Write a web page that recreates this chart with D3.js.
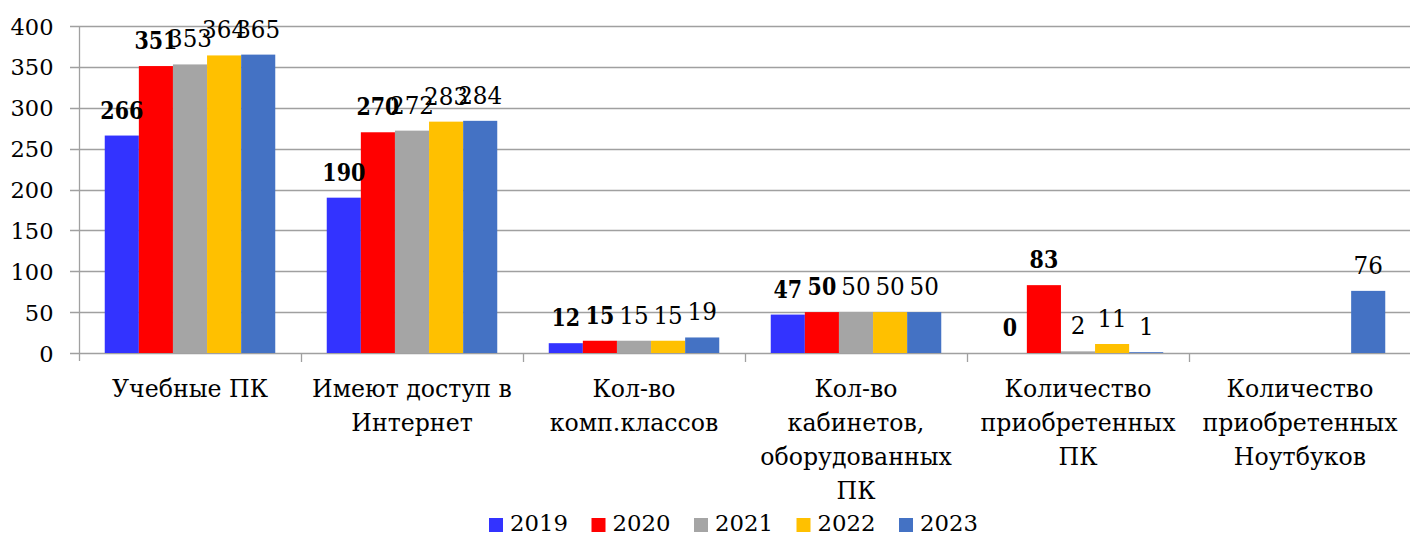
<!DOCTYPE html>
<html><head><meta charset="utf-8">
<script src="https://cdn.jsdelivr.net/npm/d3@7/dist/d3.min.js"></script>
<style>body{margin:0;background:#fff}svg{display:block}text{font-family:"DejaVu Serif",serif;fill:#000}</style>
</head><body><svg id="c" width="1410" height="535"></svg>
<script>
const categories = [
  ["Учебные ПК"],
  ["Имеют доступ в", "Интернет"],
  ["Кол-во", "комп.классов"],
  ["Кол-во", "кабинетов,", "оборудованных", "ПК"],
  ["Количество", "приобретенных", "ПК"],
  ["Количество", "приобретенных", "Ноутбуков"]
];
const years = ["2019", "2020", "2021", "2022", "2023"];
const v2019 = [266, 190, 12, 47, 0, null];
const v2020 = [351, 270, 15, 50, 83, null];
const v2021 = [353, 272, 15, 50, 2, null];
const v2022 = [364, 283, 15, 50, 11, null];
const v2023 = [365, 284, 19, 50, 1, 76];
const yTicks = [0, 50, 100, 150, 200, 250, 300, 350, 400];
const colors = ["#3333FF", "#FF0000", "#A5A5A5", "#FFC000", "#4472C4"];
const boldYears = ["2019", "2020"];

const series = [v2019, v2020, v2021, v2022, v2023];
const svg = d3.select("#c");

// horizontal calibration of the serif font to the reference's glyph widths
function measure(str, size, weight) {
  const t = svg.append("text").attr("font-size", size).attr("font-weight", weight).text(str);
  const w = t.node().getComputedTextLength();
  t.remove();
  return w;
}
const sxAxis = 43 / measure("400", 22, "normal");
const sxLeg = 58 / measure("2019", 22, "normal");
const sxVal = 44 / measure("284", 25, "normal");
const sxBold = 43 / measure("266", 25, "bold");
const sxCat = 156 / measure("Учебные ПК", 25, "normal");

const catIdx = categories.map((d, i) => i);
const x0 = d3.scaleBand().domain(catIdx).range([79, 1411]).padding(0);
const x1 = d3.scaleBand().domain(years).range([0, x0.bandwidth()]).paddingInner(0).paddingOuter(0.755);
const y = d3.scaleLinear().domain([0, 400]).range([353, 26]);
const color = d3.scaleOrdinal().domain(years).range(colors);

// gridlines
svg.append("g").selectAll("line").data(yTicks).join("line")
  .attr("x1", 70).attr("x2", 1410)
  .attr("y1", d => Math.round(y(d)) + 0.5).attr("y2", d => Math.round(y(d)) + 0.5)
  .attr("stroke", "#A0A0A0").attr("stroke-width", 1.3);

// y axis
const yAxis = svg.append("g").attr("transform", "translate(79.5,0)")
  .call(d3.axisLeft(y).tickValues(yTicks).tickSize(0).tickPadding(0));
yAxis.attr("font-family", null).attr("font-size", null);
yAxis.select(".domain").remove();
yAxis.selectAll("text").attr("x", null).attr("dy", null)
  .attr("transform", "translate(-26,8) scale(" + sxAxis + ",1)")
  .attr("font-size", 22).attr("fill", "#000");
svg.append("line").attr("x1", 79.5).attr("x2", 79.5).attr("y1", y(400)).attr("y2", 361)
  .attr("stroke", "#A0A0A0").attr("stroke-width", 1.3);

// x axis ticks at category boundaries
const bounds = catIdx.map(i => x0(i)).concat([x0(catIdx.length - 1) + x0.bandwidth()]);
svg.append("g").selectAll("line").data(bounds.slice(1, -1)).join("line")
  .attr("x1", d => Math.round(d) + 0.5).attr("x2", d => Math.round(d) + 0.5)
  .attr("y1", 353).attr("y2", 362).attr("stroke", "#A0A0A0").attr("stroke-width", 1.3);

// bars
const rows = [];
series.forEach((s, si) => s.forEach((v, ci) => { if (v !== null) rows.push({ci, year: years[si], v}); }));
svg.append("g").selectAll("rect").data(rows).join("rect")
  .attr("x", d => x0(d.ci) + x1(d.year))
  .attr("width", x1.bandwidth())
  .attr("y", d => y(d.v))
  .attr("height", d => y(0) - y(d.v))
  .attr("fill", d => color(d.year));

// value labels
svg.append("g").selectAll("text").data(rows).join("text")
  .attr("transform", d => {
    const b = boldYears.includes(d.year);
    return "translate(" + (x0(d.ci) + x1(d.year) + x1.bandwidth() / 2) + "," + (y(d.v) - 17) + ") scale(" + (b ? sxBold : sxVal) + ",1)";
  })
  .attr("text-anchor", "middle")
  .attr("font-size", 25)
  .attr("font-weight", d => boldYears.includes(d.year) ? "bold" : "normal")
  .text(d => d.v);

// category labels
const cl = svg.append("g").selectAll("text").data(categories).join("text")
  .attr("transform", (d, i) => "translate(" + (x0(i) + x0.bandwidth() / 2) + ",397) scale(" + sxCat + ",1)")
  .attr("text-anchor", "middle").attr("font-size", 25);
cl.selectAll("tspan").data(d => d).join("tspan")
  .attr("x", 0).attr("dy", (d, i) => i === 0 ? 0 : 34).text(d => d);

// legend
const lx = d3.scaleBand().domain(years).range([489, 489 + 5 * 102.5]);
const lg = svg.append("g").selectAll("g").data(years).join("g")
  .attr("transform", d => "translate(" + lx(d) + ",0)");
lg.append("rect").attr("x", 0).attr("y", 518).attr("width", 14).attr("height", 14).attr("fill", d => color(d));
lg.append("text").attr("transform", "translate(21,531) scale(" + sxLeg + ",1)")
  .attr("font-size", 22).text(d => d);
</script></body></html>
